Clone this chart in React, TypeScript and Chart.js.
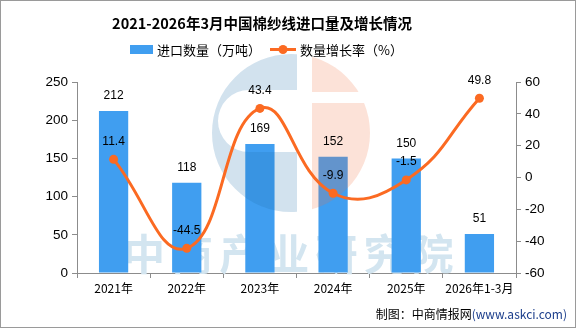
import React, { useEffect, useRef } from "react";
import { Chart, registerables } from "chart.js";

Chart.register(...registerables);

const categories = ["2021年", "2022年", "2023年", "2024年", "2025年", "2026年1-3月"];
const importVolume = [212, 118, 169, 152, 150, 51];
const growthRate = [11.4, -44.5, 43.4, -9.9, -1.5, 49.8];
const growthLabels = ["11.4", "-44.5", "43.4", "-9.9", "-1.5", "49.8"];

const TITLE = "2021-2026年3月中国棉纱线进口量及增长情况";
const LEGEND_BAR = "进口数量（万吨）";
const LEGEND_LINE = "数量增长率（%）";
const WATERMARK = "中商产业研究院";

const BAR_COLOR = "#409ef0";
const LINE_COLOR = "#fb6a22";
const AXIS_COLOR = "#8c8c8c";
const CJK = '"Noto Sans CJK SC", "Liberation Sans", sans-serif';
const NUM = '"Liberation Sans", "DejaVu Sans", sans-serif';

function drawLogo(ctx: CanvasRenderingContext2D) {
  const cx = 291, cy = 133, R = 79;
  ctx.save();
  ctx.globalAlpha = 0.2;
  // left blue part with mouth cut-out
  ctx.save();
  ctx.beginPath();
  ctx.rect(0, 0, 297, 400);
  ctx.clip();
  ctx.fillStyle = "rgb(30,110,170)";
  ctx.beginPath();
  ctx.arc(cx, cy, R, 0, Math.PI * 2);
  ctx.moveTo(300, 90);
  ctx.lineTo(249, 90);
  ctx.arc(249, 121, 31, -Math.PI / 2, Math.PI / 2, true);
  ctx.lineTo(300, 152);
  ctx.closePath();
  ctx.fill("evenodd");
  ctx.restore();
  // right pink part with horizontal gap
  ctx.save();
  ctx.beginPath();
  ctx.rect(312, 0, 200, 92);
  ctx.rect(312, 103, 200, 300);
  ctx.clip();
  ctx.fillStyle = "rgb(240,110,60)";
  ctx.beginPath();
  ctx.arc(cx, cy, R, 0, Math.PI * 2);
  ctx.fill();
  ctx.restore();
  ctx.restore();
}

const decorPlugin = {
  id: "decor",
  beforeDatasetsDraw(chart: any) {
    const ctx = chart.ctx;
    ctx.save();
    ctx.fillStyle = "rgb(211,229,240)";
    ctx.font = `bold 42px ${CJK}`;
    ctx.textAlign = "center";
    ctx.textBaseline = "middle";
    const chars = Array.from(WATERMARK);
    const pitch = 48.1;
    chars.forEach((ch, i) => {
      ctx.fillText(ch, 144 + i * pitch, 254);
    });
    ctx.restore();
  },
  afterDatasetDraw(chart: any, args: any) {
    if (args.index === 0) drawLogo(chart.ctx);
  },
  afterDatasetsDraw(chart: any) {
    const ctx = chart.ctx;
    ctx.save();
    ctx.fillStyle = "#000";
    ctx.textAlign = "center";
    ctx.textBaseline = "middle";
    ctx.font = `12px ${NUM}`;
    const barMeta = chart.getDatasetMeta(0);
    barMeta.data.forEach((el: any, i: number) => {
      ctx.fillText(String(importVolume[i]), el.x, el.y - 15);
    });
    const lineMeta = chart.getDatasetMeta(1);
    lineMeta.data.forEach((el: any, i: number) => {
      ctx.fillText(growthLabels[i], el.x, el.y - 18);
    });
    ctx.restore();
  },
  afterDraw(chart: any) {
    const ctx = chart.ctx;
    const w = chart.width, h = chart.height;
    ctx.save();
    ctx.strokeStyle = "#9a9a9a";
    ctx.lineWidth = 1;
    ctx.strokeRect(0.5, 0.5, w - 1, h - 1);
    ctx.fillStyle = "#000";
    ctx.textAlign = "center";
    ctx.textBaseline = "middle";
    ctx.font = `bold 14.5px ${CJK}`;
    ctx.fillText(TITLE, 262, 23);
    ctx.fillStyle = BAR_COLOR;
    ctx.fillRect(130, 45, 23, 9);
    ctx.fillStyle = "#000";
    ctx.textAlign = "left";
    ctx.font = `13px ${CJK}`;
    ctx.fillText(LEGEND_BAR, 157, 50);
    ctx.strokeStyle = LINE_COLOR;
    ctx.lineWidth = 3;
    ctx.beginPath();
    ctx.moveTo(270, 49.5);
    ctx.lineTo(296, 49.5);
    ctx.stroke();
    ctx.fillStyle = LINE_COLOR;
    ctx.beginPath();
    ctx.arc(283, 49.5, 4.5, 0, Math.PI * 2);
    ctx.fill();
    ctx.fillStyle = "#000";
    ctx.fillText(LEGEND_LINE, 300, 50);
    ctx.textAlign = "right";
    ctx.font = `12px ${CJK}`;
    const site = "(www.askci.com)";
    ctx.fillStyle = "#1d3f8c";
    ctx.fillText(site, 567, 314);
    const sw = ctx.measureText(site).width;
    ctx.fillStyle = "#000";
    ctx.fillText("制图：中商情报网", 567 - sw, 314);
    ctx.restore();
  },
};

export default function App() {
  const ref = useRef<HTMLCanvasElement>(null);
  useEffect(() => {
    document.body.style.margin = "0";
    const canvas = ref.current!;
    const chart = new Chart(canvas, {
      type: "bar",
      data: {
        labels: categories,
        datasets: [
          {
            type: "bar",
            label: LEGEND_BAR,
            data: importVolume,
            backgroundColor: BAR_COLOR,
            yAxisID: "y",
            barPercentage: 0.4,
            categoryPercentage: 1,
            order: 2,
          },
          {
            type: "line",
            label: LEGEND_LINE,
            data: growthRate,
            borderColor: LINE_COLOR,
            backgroundColor: LINE_COLOR,
            borderWidth: 3,
            pointRadius: 4.5,
            pointBackgroundColor: LINE_COLOR,
            pointBorderWidth: 0,
            tension: 0.45,
            cubicInterpolationMode: "default",
            yAxisID: "y1",
            order: 1,
          } as any,
        ],
      },
      options: {
        responsive: false,
        animation: false,
        layout: { padding: { top: 82, left: 0, right: 0, bottom: 0 } },
        plugins: {
          legend: { display: false },
          title: { display: false },
          tooltip: { enabled: false },
        },
        scales: {
          x: {
            grid: { drawOnChartArea: false, drawTicks: true, tickLength: 5, color: AXIS_COLOR, offset: true },
            border: { display: true, color: AXIS_COLOR },
            ticks: { color: "#000", font: { family: CJK, size: 12 }, padding: 3, maxRotation: 0, autoSkip: false },
            afterFit: (s: any) => { s.height = 55; },
          },
          y: {
            position: "left",
            min: 0,
            max: 250,
            ticks: { stepSize: 50, color: "#000", font: { family: NUM, size: 13.5 }, padding: 4 },
            grid: { drawOnChartArea: false, drawTicks: true, tickLength: 5, color: AXIS_COLOR },
            border: { display: true, color: AXIS_COLOR },
            afterFit: (s: any) => { s.width = 77; },
          },
          y1: {
            position: "right",
            min: -60,
            max: 60,
            ticks: { stepSize: 20, color: "#000", font: { family: NUM, size: 13.5 }, padding: 4 },
            grid: { drawOnChartArea: false, drawTicks: true, tickLength: 5, color: AXIS_COLOR },
            border: { display: true, color: AXIS_COLOR },
            afterFit: (s: any) => { s.width = 60; },
          },
        },
      },
      plugins: [decorPlugin],
    });
    return () => chart.destroy();
  }, []);
  return <canvas ref={ref} width={576} height={328} style={{ display: "block" }} />;
}
